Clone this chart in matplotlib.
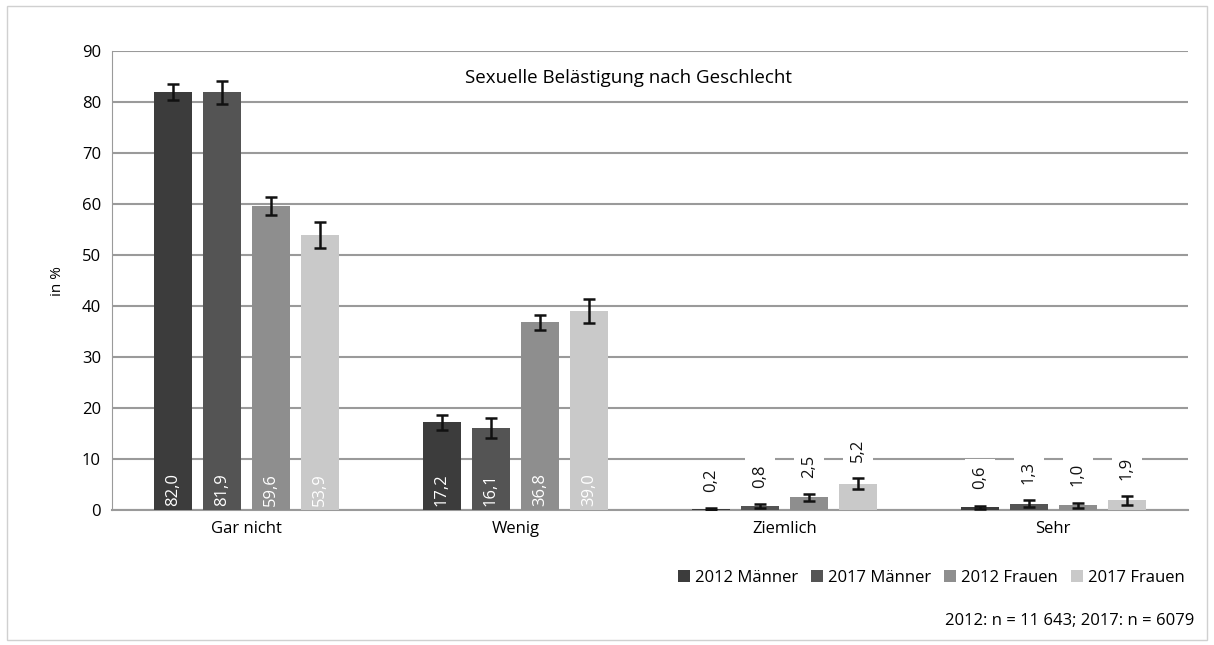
import matplotlib.pyplot as plt
import numpy as np
from matplotlib.patches import Rectangle

plt.rcParams['font.family'] = ['Open Sans', 'DejaVu Sans']

categories = ['Gar nicht', 'Wenig', 'Ziemlich', 'Sehr']
series = ['2012 Männer', '2017 Männer', '2012 Frauen', '2017 Frauen']
values = [
    [82.0, 17.2, 0.2, 0.6],
    [81.9, 16.1, 0.8, 1.3],
    [59.6, 36.8, 2.5, 1.0],
    [53.9, 39.0, 5.2, 1.9],
]
errors = [
    [1.6, 1.4, 0.2, 0.3],
    [2.2, 1.9, 0.4, 0.6],
    [1.8, 1.5, 0.7, 0.5],
    [2.6, 2.3, 1.1, 0.8],
]
colors = ['#3c3c3c', '#545454', '#8e8e8e', '#c9c9c9']

fig = plt.figure(figsize=(12.14, 6.45), dpi=100)
ax = fig.add_axes([0.0923, 0.209, 0.886, 0.712])
fig.patches.append(Rectangle((0.006, 0.008), 0.988, 0.982, transform=fig.transFigure,
                             fill=False, edgecolor='#d0d0d0', lw=1))

x = np.arange(len(categories))
w = 0.141
step = 0.182
for i, s in enumerate(series):
    pos = x + (i - 1.5) * step
    ax.bar(pos, values[i], w, color=colors[i], label=s, zorder=3)
    ax.errorbar(pos, values[i], yerr=errors[i], fmt='none', ecolor='#111111',
                elinewidth=1.8, capsize=4, capthick=1.8, zorder=4)
    for j, v in enumerate(values[i]):
        lab = f'{v:.1f}'.replace('.', ',')
        if v > 10:
            ax.text(pos[j], 0.8, lab, rotation=90, ha='center', va='bottom',
                    color='white', fontsize=12, zorder=5)
        else:
            ax.text(pos[j], v + errors[i][j] + 3.2, lab, rotation=90, ha='center',
                    va='bottom', color='#111111', fontsize=12, zorder=2.5,
                    bbox=dict(facecolor='white', edgecolor='none', pad=5))

ax.set_xlim(-0.5, 3.5)
ax.set_ylim(0, 90)
ax.set_yticks(range(0, 91, 10))
ax.set_xticks(x)
ax.set_xticklabels(categories)
ax.tick_params(axis='both', length=0, labelsize=12, pad=8)
ax.yaxis.grid(True, color='#9a9a9a', lw=1.5, zorder=0)
ax.set_axisbelow(True)
for sp in ['top', 'right']:
    ax.spines[sp].set_visible(False)
ax.spines['left'].set_color('#9a9a9a')
ax.spines['bottom'].set_color('#9a9a9a')
ax.spines['bottom'].set_linewidth(1.5)
ax.set_ylabel('in %', fontsize=11, labelpad=12)

ax.text(0.48, 0.96, 'Sexuelle Belästigung nach Geschlecht', transform=ax.transAxes,
        ha='center', va='top', fontsize=13.5)

fig.legend(loc='center right', bbox_to_anchor=(0.988, 0.104), ncol=4, frameon=False,
           fontsize=12, handlelength=0.7, handleheight=0.7, handletextpad=0.3,
           columnspacing=0.8)
fig.text(0.984, 0.037, '2012: n = 11 643; 2017: n = 6079', ha='right', va='center',
         fontsize=12)

fig.savefig('out.png', dpi=100)
